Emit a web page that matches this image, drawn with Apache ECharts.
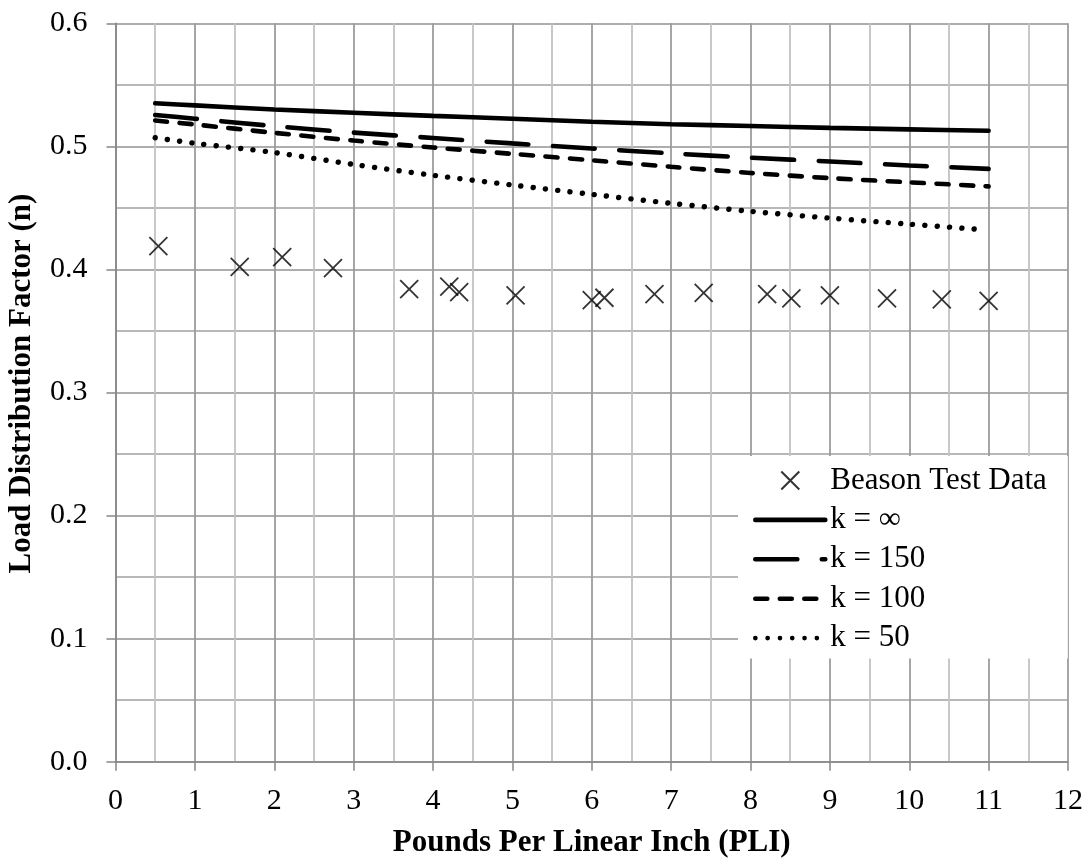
<!DOCTYPE html>
<html>
<head>
<meta charset="utf-8">
<script src="https://cdn.jsdelivr.net/npm/echarts@6/dist/echarts.min.js"></script>
<style>
  html, body { margin: 0; padding: 0; background: #fff; }
  #chart { width: 1091px; height: 861px; }
</style>
</head>
<body>
<div id="chart"></div>
<script>
// Beason test measurements: load (PLI) vs. load distribution factor
const testPLI = [0.54, 1.565, 2.10, 2.74, 3.70, 4.205, 4.33, 5.04, 6.00, 6.16, 6.79, 7.41, 8.21, 8.515, 9.00, 9.72, 10.41, 11.00];
const testN   = [0.419, 0.402, 0.410, 0.401, 0.384, 0.386, 0.3815, 0.379, 0.375, 0.377, 0.380, 0.381, 0.380, 0.3764, 0.379, 0.3764, 0.3756, 0.3745];

// Model curves for several stiffness values k
const curvePLI  = [0.5, 1, 2, 3, 4, 5, 6, 7, 8, 9, 10, 11];
const kInf      = [0.535, 0.5333, 0.530, 0.5273, 0.5248, 0.5225, 0.520, 0.518, 0.5165, 0.515, 0.5138, 0.5127];
const k150      = [0.5255, 0.5225, 0.5165, 0.5112, 0.5068, 0.5024, 0.4983, 0.4943, 0.4908, 0.4877, 0.4845, 0.4817];
const k100      = [0.521, 0.5178, 0.511, 0.5047, 0.4991, 0.4939, 0.4887, 0.4834, 0.4784, 0.4742, 0.4708, 0.4675];
const k50PLI    = [0.5, 1, 2, 3, 4, 5, 6, 7, 8, 9, 10, 10.85];
const k50       = [0.507, 0.5025, 0.495, 0.4853, 0.4765, 0.4686, 0.461, 0.4537, 0.4472, 0.4417, 0.4368, 0.4327];

const seriesNames = ['Beason Test Data', 'k = \u221E', 'k = 150', 'k = 100', 'k = 50'];
const xTitle = 'Pounds Per Linear Inch (PLI)';
const yTitle = 'Load Distribution Factor (n)';

const FONT = '"Liberation Serif", "Times New Roman", serif';
const pairs = (xs, ys) => xs.map((x, i) => [x, ys[i]]);

const chart = echarts.init(document.getElementById('chart'), null, { renderer: 'canvas' });

// Curves have no point markers; the hidden item style also keeps the
// legend icon down to the bare line sample.
const lineBase = {
  type: 'line',
  symbol: 'none',
  showSymbol: false,
  smooth: 0.3,
  color: '#000',
  itemStyle: { color: '#000', opacity: 0 },
  z: 3
};

chart.setOption({
  animation: false,
  backgroundColor: '#fff',
  grid: { left: 115.5, right: 23, top: 23.3, bottom: 99.3,
          containLabel: false, outerBoundsMode: 'none' },
  xAxis: {
    type: 'value',
    min: 0, max: 12, interval: 1,
    name: xTitle,
    nameLocation: 'middle',
    nameGap: 66,
    nameTextStyle: { fontFamily: FONT, fontSize: 31, fontWeight: 'bold', color: '#000' },
    axisLine: { show: true, onZero: false, lineStyle: { color: '#868686', width: 1.5 } },
    axisTick: { show: true, length: 9, lineStyle: { color: '#868686', width: 1.5 } },
    axisLabel: { fontFamily: FONT, fontSize: 30, color: '#000', margin: 24 },
    splitLine: { show: true, lineStyle: { color: '#9c9c9c', width: 1.8 } },
    minorTick: { show: false, splitNumber: 2 },
    minorSplitLine: { show: true, lineStyle: { color: '#c2c2c2', width: 1.8 } }
  },
  yAxis: {
    type: 'value',
    min: 0, max: 0.6, interval: 0.1,
    name: yTitle,
    nameLocation: 'middle',
    nameGap: 78,
    nameTextStyle: { fontFamily: FONT, fontSize: 31, fontWeight: 'bold', color: '#000',
                     padding: [0, 0, 0, 18] },
    axisLine: { show: true, lineStyle: { color: '#868686', width: 1.5 } },
    axisTick: { show: true, length: 9, lineStyle: { color: '#868686', width: 1.5 } },
    axisLabel: { fontFamily: FONT, fontSize: 30, color: '#000', margin: 28,
                 formatter: v => v.toFixed(1) },
    splitLine: { show: true, lineStyle: { color: '#adadad', width: 1.8 } },
    minorTick: { show: false, splitNumber: 2 },
    minorSplitLine: { show: true, lineStyle: { color: '#b8b8b8', width: 1.8 } }
  },
  legend: {
    orient: 'vertical',
    left: 738, top: 456,
    padding: [9, 21, 5, 15],
    backgroundColor: '#fff',
    itemWidth: 70,
    itemHeight: 18,
    itemGap: 8.4,
    align: 'left',
    selectedMode: false,
    data: seriesNames,
    lineStyle: { width: 4.6 },
    textStyle: { fontFamily: FONT, fontSize: 31, color: '#000', lineHeight: 30 }
  },
  series: [
    {
      name: seriesNames[0],
      type: 'scatter',
      data: pairs(testPLI, testN),
      symbol: 'path://M0,0L10,10M10,0L0,10',
      symbolSize: 18,
      itemStyle: { color: 'rgba(0,0,0,0)', borderColor: '#000', borderWidth: 1.8 },
      z: 4
    },
    Object.assign({}, lineBase, {
      name: seriesNames[1],
      data: pairs(curvePLI, kInf),
      lineStyle: { color: '#000', width: 4.6, type: 'solid', cap: 'round' }
    }),
    Object.assign({}, lineBase, {
      name: seriesNames[2],
      data: pairs(curvePLI, k150),
      lineStyle: { color: '#000', width: 4.6, type: [42, 24.5], cap: 'round' }
    }),
    Object.assign({}, lineBase, {
      name: seriesNames[3],
      data: pairs(curvePLI, k100),
      lineStyle: { color: '#000', width: 4.6, type: [12, 12.5], cap: 'round' }
    }),
    Object.assign({}, lineBase, {
      name: seriesNames[4],
      data: pairs(k50PLI, k50),
      lineStyle: { color: '#000', width: 5.4, type: [0.1, 12.2], cap: 'round' }
    })
  ]
});
</script>
</body>
</html>
